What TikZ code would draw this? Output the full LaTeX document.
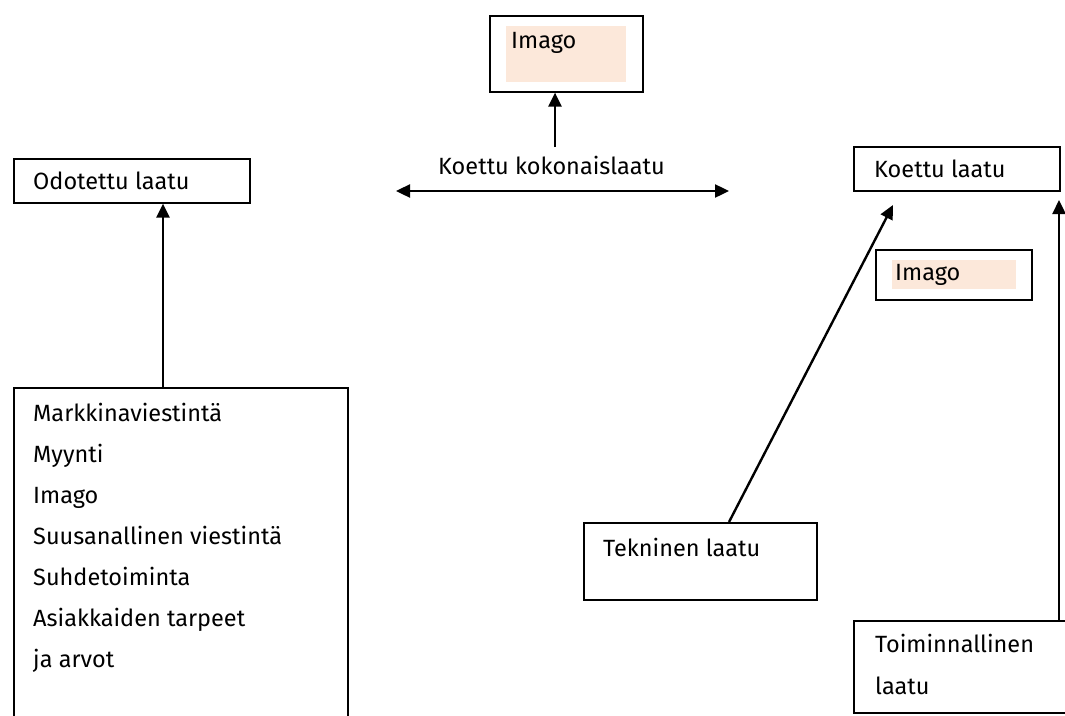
\documentclass[tikz,border=0pt]{standalone}
\usepackage{fontspec}
\setmainfont{Fira Sans}
\usetikzlibrary{arrows.meta}
\definecolor{peach}{HTML}{FCE8DA}
\begin{document}
\begin{tikzpicture}[x=1pt,y=-1pt,
  box/.style={draw=black,line width=1.6pt,inner sep=0pt,anchor=north west},
  hl/.style={fill=peach,draw=none,inner sep=0pt,anchor=north west},
  lbl/.style={anchor=base west,inner sep=0pt,font=\fontsize{23.5}{28}\selectfont},
  arr/.style={line width=2.4pt,-{Triangle[length=14pt,width=13pt]}},
  darr/.style={line width=2.4pt,{Triangle[length=14pt,width=13pt]}-{Triangle[length=14pt,width=13pt]}}]
\useasboundingbox[fill=white] (0,0) rectangle (1065,715);
% top imago
\node[box,minimum width=153pt,minimum height=76pt] (imgtop) at (489,15) {};
\node[hl,minimum width=120pt,minimum height=56pt] (imgtophl) at (506,26) {};
\node[lbl] (imgtoptxt) at (511,48) {Imago};
% centre
\node[lbl] (kok) at (438,174) {Koettu kokonaislaatu};
\coordinate (kokstem) at (555,147);
\coordinate (kokL) at (396,191);
\coordinate (kokR) at (729,191);
\draw[arr] (kokstem) -- (imgtop.south -| kokstem);
\draw[darr] (kokL) -- (kokR);
% left
\node[box,minimum width=236pt,minimum height=44pt] (odo) at (13,158) {};
\node[lbl] (odotxt) at (33,189) {Odotettu laatu};
\node[box,minimum width=334pt,minimum height=360pt] (big) at (13,387) {};
\node[lbl] (b1) at (33,421) {Markkinaviestintä};
\node[lbl] (b2) at (33,462) {Myynti};
\node[lbl] (b3) at (33,503) {Imago};
\node[lbl] (b4) at (33,544) {Suusanallinen viestintä};
\node[lbl] (b5) at (33,585) {Suhdetoiminta};
\node[lbl] (b6) at (33,626) {Asiakkaiden tarpeet};
\node[lbl] (b7) at (33,667) {ja arvot};
\coordinate (odoin) at (163,387);
\draw[arr] (odoin) -- (odo.south -| odoin);
% right
\node[box,minimum width=206pt,minimum height=44pt] (koe) at (853,146) {};
\node[lbl] (koetxt) at (874,177) {Koettu laatu};
\node[box,minimum width=156pt,minimum height=50pt] (imgr) at (875,249) {};
\node[hl,minimum width=124pt,minimum height=29pt] (imgrhl) at (892,260) {};
\node[lbl] (imgrtxt) at (895,280) {Imago};
\node[box,minimum width=233pt,minimum height=77pt] (tek) at (583,522) {};
\node[lbl] (tektxt) at (603,556) {Tekninen laatu};
\node[box,minimum width=230pt,minimum height=92pt] (toi) at (853,620) {};
\node[lbl] (toitxt1) at (875,652) {Toiminnallinen};
\node[lbl] (toitxt2) at (875,694) {laatu};
\coordinate (tektop) at (729,522);
\coordinate (tektip) at (893,205);
\coordinate (toitop) at (1059,620);
\coordinate (toitip) at (1059,200);
\draw[arr] (tektop) -- (tektip);
\draw[arr] (toitop) -- (toitip);
\end{tikzpicture}
\end{document}
